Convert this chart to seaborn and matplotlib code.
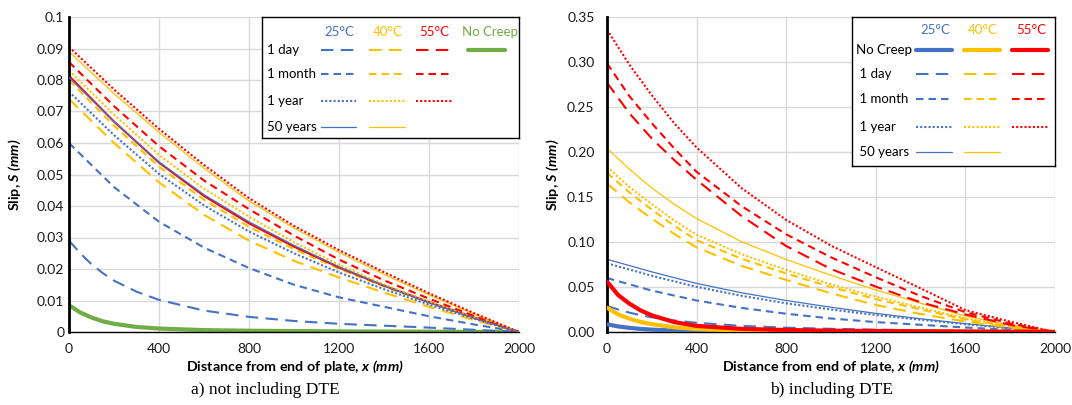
import matplotlib
matplotlib.use("Agg")
import matplotlib.pyplot as plt
import seaborn as sns

# ---------------- data ----------------
X_MAIN = [0, 200, 400, 600, 800, 1000, 1200, 1400, 1600, 1800, 2000]
X_FINE = [0, 50, 100, 150, 200, 300, 400, 600, 800, 1000, 1200, 1600, 2000]
X_B = [0, 100, 200, 300, 400, 600, 800, 1000, 1200, 1400, 1600, 1800, 2000]

# 25°C curves (identical in both panels)
S25_NOCREEP = [0.0085, 0.0062, 0.0046, 0.0034, 0.0026, 0.0016, 0.0011, 0.0006, 0.0004, 0.0003, 0.0002, 0.0001, 0.0]
S25_1DAY = [0.0290, 0.0250, 0.0215, 0.0187, 0.0163, 0.0128, 0.0102, 0.0068, 0.0048, 0.0035, 0.0026, 0.0014, 0.0]
S25_1MONTH = [0.0600, 0.0460, 0.0350, 0.0268, 0.0203, 0.0150, 0.0110, 0.0080, 0.0050, 0.0024, 0.0]
S25_1YEAR = [0.0763, 0.0625, 0.0502, 0.0402, 0.0319, 0.0250, 0.0189, 0.0136, 0.0087, 0.0042, 0.0]
S25_50YEARS = [0.0808, 0.0668, 0.0540, 0.0436, 0.0350, 0.0275, 0.0207, 0.0147, 0.0093, 0.0044, 0.0]

# a) not including DTE
A40_1DAY = [0.0740, 0.0600, 0.0475, 0.0372, 0.0290, 0.0226, 0.0173, 0.0125, 0.0080, 0.0038, 0.0]
A40_1MONTH = [0.0800, 0.0655, 0.0525, 0.0420, 0.0334, 0.0263, 0.0201, 0.0144, 0.0093, 0.0045, 0.0]
A40_1YEAR = [0.0830, 0.0690, 0.0562, 0.0455, 0.0366, 0.0285, 0.0213, 0.0151, 0.0097, 0.0047, 0.0]
A40_50YEARS = [0.0890, 0.0757, 0.0634, 0.0520, 0.0416, 0.0330, 0.0253, 0.0183, 0.0118, 0.0057, 0.0]
A55_1MONTH = [0.0857, 0.0717, 0.0590, 0.0481, 0.0390, 0.0306, 0.0230, 0.0164, 0.0106, 0.0051, 0.0]
A55_1YEAR = [0.0905, 0.0770, 0.0645, 0.0530, 0.0425, 0.0337, 0.0260, 0.0190, 0.0123, 0.0060, 0.0]
A55_50YEARS = [0.0813, 0.0668, 0.0538, 0.0432, 0.0345, 0.0271, 0.0205, 0.0147, 0.0095, 0.0046, 0.0]

# b) including DTE
B40_NOCREEP = [0.0270, 0.0195, 0.0148, 0.0112, 0.0087, 0.0052, 0.0033, 0.0017, 0.0011, 0.0008, 0.0006, 0.0003, 0.0]
B55_NOCREEP = [0.0560, 0.0410, 0.0315, 0.0240, 0.0185, 0.0110, 0.0068, 0.0035, 0.0022, 0.0015, 0.0011, 0.0005, 0.0]
B40_1DAY = [0.165, 0.144, 0.126, 0.109, 0.094, 0.0735, 0.0578, 0.043, 0.030, 0.020, 0.0117, 0.005, 0.0]
B40_1MONTH = [0.177, 0.155, 0.136, 0.118, 0.102, 0.0815, 0.065, 0.050, 0.0365, 0.025, 0.014, 0.006, 0.0]
B40_1YEAR = [0.1837, 0.161, 0.142, 0.124, 0.108, 0.0865, 0.0689, 0.053, 0.0393, 0.027, 0.0152, 0.0065, 0.0]
B40_50YEARS = [0.204, 0.181, 0.160, 0.142, 0.126, 0.1005, 0.0805, 0.063, 0.0467, 0.032, 0.0178, 0.0075, 0.0]
B55_1DAY = [0.277, 0.243, 0.215, 0.191, 0.169, 0.129, 0.0955, 0.070, 0.0504, 0.033, 0.0195, 0.008, 0.0]
B55_1MONTH = [0.2985, 0.262, 0.232, 0.204, 0.178, 0.140, 0.1085, 0.083, 0.0608, 0.040, 0.022, 0.0095, 0.0]
B55_1YEAR = [0.336, 0.297, 0.263, 0.232, 0.205, 0.160, 0.1245, 0.096, 0.072, 0.0485, 0.0244, 0.0115, 0.0]

X_TICKS = [0, 400, 800, 1200, 1600, 2000]
YA_TICKS = [0, 0.01, 0.02, 0.03, 0.04, 0.05, 0.06, 0.07, 0.08, 0.09, 0.1]
YA_LABELS = ["0", "0.01", "0.02", "0.03", "0.04", "0.05", "0.06", "0.07", "0.08", "0.09", "0.1"]
YB_TICKS = [0, 0.05, 0.10, 0.15, 0.20, 0.25, 0.30, 0.35]
YB_LABELS = ["0.00", "0.05", "0.10", "0.15", "0.20", "0.25", "0.30", "0.35"]

TEMPS = ["25°C", "40°C", "55°C"]
AGES = ["1 day", "1 month", "1 year", "50 years"]

# ---------------- style ----------------
BLUE, ORANGE, RED, GREEN = "#4472C4", "#FFC000", "#FF0000", "#70AD47"
STY = {
    "nocreep": dict(lw=3.0, ls="-"),
    "1 day": dict(lw=1.5, ls=(0, (6, 3.5))),
    "1 month": dict(lw=1.5, ls=(0, (3.6, 2.4))),
    "1 year": dict(lw=1.5, ls=(0, (1, 1))),
    "50 years": dict(lw=0.9, ls="-"),
}
TICK_FS = 10
LEG_FS = 9.5
LAB_FS = 10.3

sns.set_style("white")
plt.rcParams["font.family"] = ["Lato", "DejaVu Sans"]
plt.rcParams["mathtext.fontset"] = "custom"
plt.rcParams["mathtext.it"] = "Lato:italic:bold"
plt.rcParams["mathtext.rm"] = "Lato:italic:bold"
plt.rcParams["mathtext.bf"] = "Lato:italic:bold"

W, H = 1072, 405
fig = plt.figure(figsize=(W / 100, H / 100), dpi=100)
fig.patch.set_facecolor("white")


def px_axes(l, t, r, b):
    return fig.add_axes([l / W, 1 - b / H, (r - l) / W, (b - t) / H])


def draw(ax, xs, ys, color, key, z=2):
    s = STY[key]
    sns.lineplot(x=xs, y=ys, ax=ax, color=color, linewidth=s["lw"], linestyle=s["ls"],
                 errorbar=None, estimator=None, sort=False, zorder=z)


def style_axes(ax, yticks, ylabels, ymax, ypad):
    ax.set_xlim(0, 2000)
    ax.set_ylim(0, ymax)
    ax.set_xticks(X_TICKS)
    ax.set_xticklabels([str(v) for v in X_TICKS])
    ax.set_yticks(yticks)
    ax.set_yticklabels(ylabels)
    ax.grid(True, color="#D9D9D9", lw=1)
    ax.set_axisbelow(True)
    for sp in ["top", "right"]:
        ax.spines[sp].set_visible(False)
    ax.spines["left"].set_color("black")
    ax.spines["left"].set_linewidth(2)
    ax.spines["bottom"].set_color("black")
    ax.spines["bottom"].set_linewidth(1)
    ax.tick_params(axis="x", direction="out", length=4, width=1, color="black",
                   labelsize=TICK_FS, pad=4, labelcolor="#1a1a1a")
    ax.tick_params(axis="y", length=0, labelsize=TICK_FS, pad=ypad, labelcolor="#1a1a1a")
    ax.set_xlabel("")
    ax.set_ylabel("")


# ---------------- panel a ----------------
axa = px_axes(69, 17, 519, 332)
draw(axa, X_FINE, S25_NOCREEP, GREEN, "nocreep")
draw(axa, X_FINE, S25_1DAY, BLUE, "1 day")
draw(axa, X_MAIN, S25_1MONTH, BLUE, "1 month")
draw(axa, X_MAIN, A40_1DAY, ORANGE, "1 day")
draw(axa, X_MAIN, A40_1MONTH, ORANGE, "1 month")
draw(axa, X_MAIN, S25_1YEAR, BLUE, "1 year")
sns.lineplot(x=X_MAIN, y=A55_50YEARS, ax=axa, color=RED, linewidth=1.5, errorbar=None,
             estimator=None, sort=False, zorder=2)
draw(axa, X_MAIN, S25_50YEARS, BLUE, "50 years", z=3)
draw(axa, X_MAIN, A40_1YEAR, ORANGE, "1 year")
draw(axa, X_MAIN, A55_1MONTH, RED, "1 month")
draw(axa, X_MAIN, A40_50YEARS, ORANGE, "50 years")
draw(axa, X_MAIN, A55_1YEAR, RED, "1 year")
style_axes(axa, YA_TICKS, YA_LABELS, 0.1, 3.5)

# ---------------- panel b ----------------
axb = px_axes(607, 17, 1055, 332)
draw(axb, X_MAIN, S25_50YEARS, BLUE, "50 years")
draw(axb, X_MAIN, S25_1YEAR, BLUE, "1 year")
draw(axb, X_MAIN, S25_1MONTH, BLUE, "1 month")
draw(axb, X_FINE, S25_1DAY, BLUE, "1 day")
draw(axb, X_B, B40_50YEARS, ORANGE, "50 years")
draw(axb, X_B, B40_1YEAR, ORANGE, "1 year")
draw(axb, X_B, B40_1MONTH, ORANGE, "1 month")
draw(axb, X_B, B40_1DAY, ORANGE, "1 day")
draw(axb, X_B, B55_1YEAR, RED, "1 year")
draw(axb, X_B, B55_1MONTH, RED, "1 month")
draw(axb, X_B, B55_1DAY, RED, "1 day")
draw(axb, X_FINE, S25_NOCREEP, BLUE, "nocreep", z=3)
draw(axb, X_FINE, B40_NOCREEP, ORANGE, "nocreep", z=3)
draw(axb, X_FINE, B55_NOCREEP, RED, "nocreep", z=3)
style_axes(axb, YB_TICKS, YB_LABELS, 0.35, 9)

# ---------------- axis labels & captions ----------------
lab = dict(fontsize=LAB_FS, fontweight="bold", color="black", ha="center", va="center")
fig.text(295 / W, 1 - 367 / H, "Distance from end of plate, $x$ $(mm)$", **lab)
fig.text(831 / W, 1 - 367 / H, "Distance from end of plate, $x$ $(mm)$", **lab)
fig.text(15 / W, 1 - 175 / H, "Slip, $S$ $(mm)$", rotation=90, **lab)
fig.text(553 / W, 1 - 175 / H, "Slip, $S$ $(mm)$", rotation=90, **lab)
cap = dict(fontsize=12.5, family="Liberation Serif", ha="center", va="center", color="black")
fig.text(265 / W, 1 - 390 / H, "a) not including DTE", **cap)
fig.text(831 / W, 1 - 390 / H, "b) including DTE", **cap)


# ---------------- table-style legends ----------------
def table_legend(box, header_y, headers, label_x, rows):
    l, t, r, b = box
    lax = px_axes(l, t, r, b)
    lax.set_zorder(10)
    lax.set_facecolor("white")
    lax.set_xlim(l, r)
    lax.set_ylim(b, t)
    lax.set_xticks([])
    lax.set_yticks([])
    for sp in lax.spines.values():
        sp.set_visible(True)
        sp.set_color("black")
        sp.set_linewidth(1)
    for txt, xc, col in headers:
        lax.text(xc, header_y, txt, color=col, ha="center", va="center", fontsize=LEG_FS)
    for label, y, samples in rows:
        lax.text(label_x, y, label, color="black", ha="left", va="center", fontsize=LEG_FS)
        for x0, x1, col, key in samples:
            s = STY[key]
            lax.plot([x0, x1], [y, y], color=col, lw=s["lw"], ls=s["ls"])


CA = [(321, 356, BLUE), (369, 405, ORANGE), (416, 452, RED)]
table_legend((262, 17, 519, 138), 32,
             [(TEMPS[0], 339, BLUE), (TEMPS[1], 388, ORANGE), (TEMPS[2], 434, RED),
              ("No Creep", 490, GREEN)],
             267,
             [(AGES[0], 50, [(a, b, c, "1 day") for a, b, c in CA] + [(468, 505, GREEN, "nocreep")]),
              (AGES[1], 74, [(a, b, c, "1 month") for a, b, c in CA]),
              (AGES[2], 101, [(a, b, c, "1 year") for a, b, c in CA]),
              (AGES[3], 127, [(a, b, c, "50 years") for a, b, c in CA[:2]])])

CB = [(916, 952, BLUE), (964, 1000, ORANGE), (1012, 1048, RED)]
table_legend((852, 17, 1055, 166), 30,
             [(TEMPS[0], 935, BLUE), (TEMPS[1], 983, ORANGE), (TEMPS[2], 1031, RED)],
             856,
             [("No Creep", 50, [(a, b, c, "nocreep") for a, b, c in CB]),
              (" " + AGES[0], 74, [(a, b, c, "1 day") for a, b, c in CB]),
              (" " + AGES[1], 99, [(a, b, c, "1 month") for a, b, c in CB]),
              (" " + AGES[2], 127, [(a, b, c, "1 year") for a, b, c in CB]),
              (" " + AGES[3], 152, [(a, b, c, "50 years") for a, b, c in CB[:2]])])

fig.savefig("out.png", dpi=100, facecolor="white")
